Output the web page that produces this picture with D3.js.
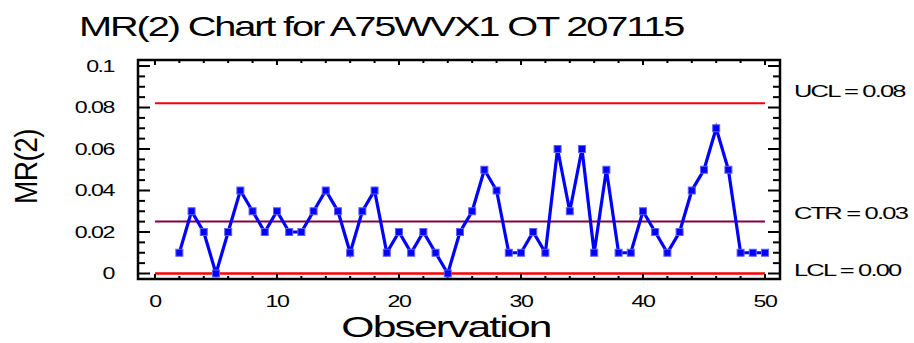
<!DOCTYPE html>
<html>
<head>
<meta charset="utf-8">
<script src="https://cdn.jsdelivr.net/npm/d3@7"></script>
<style>
  html, body { margin: 0; padding: 0; background: #ffffff; }
  svg { display: block; }
  text { font-family: "Liberation Sans", Arial, sans-serif; fill: #000; }
</style>
</head>
<body>
<svg id="chart" width="914" height="343"></svg>
<script>
// Moving ranges (span 2), observations 2..50
const firstObservation = 2;
const mrValues = [
  0.01, 0.03, 0.02, 0.00, 0.02, 0.04, 0.03, 0.02, 0.03, 0.02,
  0.02, 0.03, 0.04, 0.03, 0.01, 0.03, 0.04, 0.01, 0.02, 0.01,
  0.02, 0.01, 0.00, 0.02, 0.03, 0.05, 0.04, 0.01, 0.01, 0.02,
  0.01, 0.06, 0.03, 0.06, 0.01, 0.05, 0.01, 0.01, 0.03, 0.02,
  0.01, 0.02, 0.04, 0.05, 0.07, 0.05, 0.01, 0.01, 0.01
];

// Control limits
const limitNames  = ["UCL", "CTR", "LCL"];
const limitValues = [0.0820, 0.0251, 0.0];

// Axis ticks
const xTickValues = [0, 10, 20, 30, 40, 50];
const xTickLabels = ["0", "10", "20", "30", "40", "50"];
const yTickValues = [0, 0.02, 0.04, 0.06, 0.08, 0.1];
const yTickLabels = ["0", "0.02", "0.04", "0.06", "0.08", "0.1"];

const titleText = "MR(2) Chart for A75WVX1 OT 207115";
const xTitle = "Observation";
const yTitle = "MR(2)";

const points = mrValues.map((v, i) => ({ obs: firstObservation + i, mr: v }));

const svg = d3.select("#chart");

const frame = { left: 138, right: 780, top: 60, bottom: 279 };

const x = d3.scaleLinear().domain([-1.39, 51.23]).range([frame.left, frame.right]);
const y = d3.scaleLinear().domain([-0.00265, 0.1029]).range([frame.bottom, frame.top]);

// Text drawn with a horizontal stretch around its anchor point
function stretchedText(parent, px, py, str, o) {
  return parent.append("text")
    .attr("transform", `translate(${px},${py}) scale(${o.sx || 1},${o.sy || 1})`)
    .attr("text-anchor", o.anchor || "start")
    .attr("font-size", o.size)
    .attr("letter-spacing", o.ls || 0)
    .text(str);
}

// Control limit lines from observation 0 to 50
const limitColors = ["#ff0000", "#800040", "#ff0000"];
const limitWidths = [2, 2, 2.5];
svg.append("g").selectAll("line")
  .data(limitValues)
  .join("line")
  .attr("x1", x(0)).attr("x2", x(50))
  .attr("y1", d => y(d)).attr("y2", d => y(d))
  .attr("stroke", (d, i) => limitColors[i])
  .attr("stroke-width", (d, i) => limitWidths[i]);

// Frame
svg.append("rect")
  .attr("x", frame.left).attr("y", frame.top)
  .attr("width", frame.right - frame.left)
  .attr("height", frame.bottom - frame.top)
  .attr("fill", "none").attr("stroke", "#000").attr("stroke-width", 2.5);

// Tick marks (inward on all four sides)
const ticks = svg.append("g").attr("stroke", "#000");
d3.range(0, 51, 2).forEach(v => {
  const major = v % 10 === 0;
  const len = major ? 5 : 3;
  ticks.append("line").attr("x1", x(v)).attr("x2", x(v))
    .attr("y1", frame.bottom).attr("y2", frame.bottom - len).attr("stroke-width", 2);
  ticks.append("line").attr("x1", x(v)).attr("x2", x(v))
    .attr("y1", frame.top).attr("y2", frame.top + len).attr("stroke-width", 2);
});
d3.range(0, 21).forEach(k => {
  const v = k * 0.005;
  const major = k % 4 === 0;
  const len = major ? 12 : 7;
  ticks.append("line").attr("x1", frame.left).attr("x2", frame.left + len)
    .attr("y1", y(v)).attr("y2", y(v)).attr("stroke-width", 2);
  ticks.append("line").attr("x1", frame.right).attr("x2", frame.right - len)
    .attr("y1", y(v)).attr("y2", y(v)).attr("stroke-width", 2);
});

// Data series
const line = d3.line().x(d => x(d.obs)).y(d => y(d.mr));
svg.append("path")
  .datum(points)
  .attr("d", line)
  .attr("fill", "none")
  .attr("stroke", "#0000ff")
  .attr("stroke-width", 3.2)
  .attr("stroke-linejoin", "miter");

svg.append("g").selectAll("rect")
  .data(points)
  .join("rect")
  .attr("x", d => x(d.obs) - 3.5)
  .attr("y", d => y(d.mr) - 3.5)
  .attr("width", 7).attr("height", 7)
  .attr("fill", "#0000ff")
  .attr("stroke", "#6060ff")
  .attr("stroke-width", 1);

// Tick labels
const labels = svg.append("g");
xTickValues.forEach((v, i) => {
  stretchedText(labels, x(v), 307, xTickLabels[i], { size: 16, sx: 1.45, ls: -1, anchor: "middle" });
});
yTickValues.forEach((v, i) => {
  stretchedText(labels, 114, y(v) + 5.5, yTickLabels[i], { size: 16, sx: 1.45, ls: -1, anchor: "end" });
});

// Limit labels on the right
const limitOffsets = [-6, -2, 2];
const fmt = d3.format(".2f");
limitValues.forEach((v, i) => {
  stretchedText(labels, 794, y(v) + limitOffsets[i], `${limitNames[i]} = ${fmt(v)}`,
    { size: 17, sx: 1.5, ls: -1.2 });
});

// Titles
stretchedText(svg, 79, 36, titleText, { size: 28, sx: 1.42, ls: -1.5 });
stretchedText(svg, 446, 337, xTitle, { size: 30, sx: 1.42, ls: -1.3, anchor: "middle" });
svg.append("text")
  .attr("transform", `translate(37,166.5) rotate(-90) scale(1,1.1)`)
  .attr("text-anchor", "middle")
  .attr("font-size", 28)
  .attr("letter-spacing", -0.5)
  .text(yTitle);
</script>
</body>
</html>
